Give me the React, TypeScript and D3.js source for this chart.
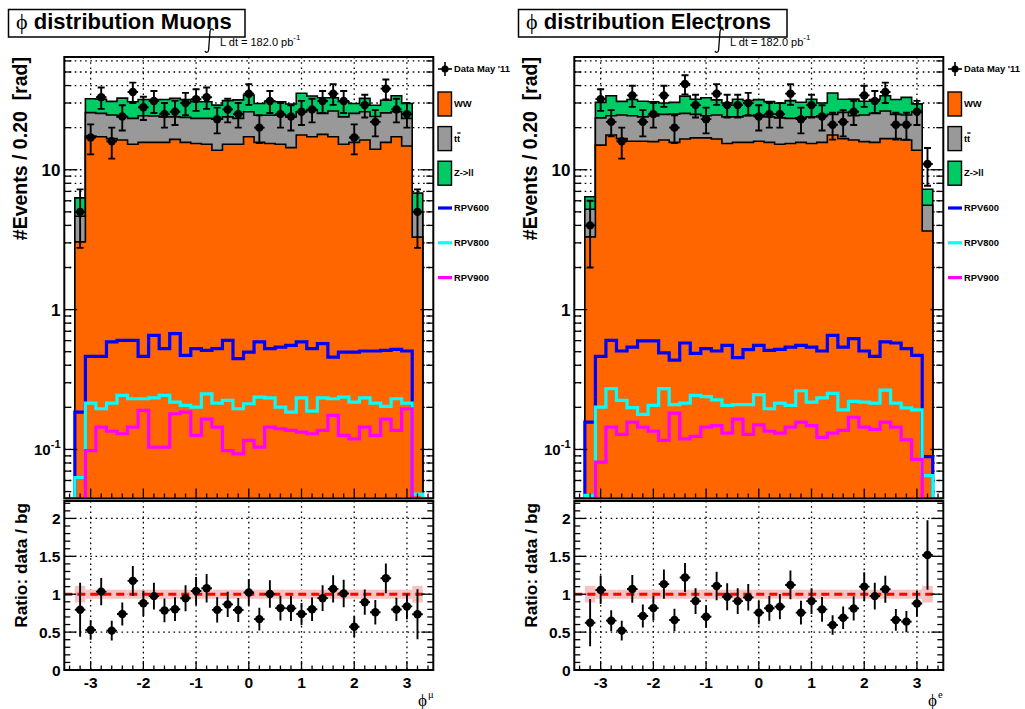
import React from 'react';
import * as d3 from 'd3';

// ---------------- binning ----------------
const BIN_LOW = -3.5;
const BIN_WIDTH = 0.2;
const N_BINS = 35;
const Y_MIN = 0.0446;
const Y_MAX = 64;
const R_MAX = 2.23;

// ---------------- Muons ----------------
const muData = [0, 5, 17, 33, 16, 24, 36, 28, 31, 25, 26, 30, 32, 33, 23, 27, 25, 35, 20, 31, 25, 24, 26, 27, 31, 35, 31, 17, 29, 22, 38, 27, 25, 5, 0];
const muWW = [0, 3.05, 17.4, 17.2, 16.7, 16.3, 15.2, 15.7, 15.7, 15.7, 16.5, 15.7, 15.4, 15.2, 13.8, 15.2, 15.2, 17.2, 15.7, 15.4, 15.2, 14.4, 17.7, 17.2, 17.9, 17.2, 15.2, 15.7, 16.3, 14.0, 15.7, 17.2, 14.8, 3.3, 0];
const muTT = [0, 1.6, 8.2, 8.1, 7.9, 7.6, 8.1, 8.6, 8.5, 8.2, 7.4, 8.0, 7.9, 8.1, 9.2, 8.7, 8.1, 8.8, 8.8, 9.1, 9.4, 9.5, 8.3, 9.5, 7.4, 9.1, 8.7, 9.6, 9.7, 10.0, 9.8, 8.8, 8.5, 1.7, 0];
const muZ = [0, 1.64, 6.6, 6.6, 6.2, 8.6, 7.3, 7.5, 7.6, 7.9, 8.5, 8.0, 7.4, 7.3, 6.0, 7.3, 8.3, 8.2, 5.3, 6.4, 6.0, 5.6, 9.2, 7.0, 7.4, 6.4, 6.8, 4.5, 6.4, 4.9, 5.9, 7.8, 6.5, 1.8, 0];
const muRPV600 = [0, 0.185, 0.463, 0.463, 0.587, 0.603, 0.603, 0.463, 0.655, 0.526, 0.673, 0.471, 0.526, 0.511, 0.526, 0.603, 0.446, 0.497, 0.587, 0.526, 0.54, 0.555, 0.587, 0.526, 0.571, 0.458, 0.497, 0.497, 0.506, 0.506, 0.511, 0.52, 0.506, 0, 0];
const muRPV800 = [0, 0.063, 0.2145, 0.1955, 0.2145, 0.2435, 0.2305, 0.2305, 0.234, 0.2435, 0.218, 0.2065, 0.201, 0.25, 0.2145, 0.224, 0.1955, 0.2122, 0.237, 0.234, 0.201, 0.185, 0.234, 0.188, 0.234, 0.2305, 0.237, 0.218, 0.234, 0.2145, 0.203, 0.2305, 0.2145, 0.048, 0];
const muRPV900 = [0, 0, 0.098, 0.1445, 0.135, 0.1295, 0.1445, 0.19, 0.104, 0.104, 0.18, 0.185, 0.126, 0.165, 0.1445, 0.098, 0.093, 0.116, 0.104, 0.1445, 0.1406, 0.137, 0.133, 0.1295, 0.137, 0.175, 0.126, 0.119, 0.1445, 0.126, 0.165, 0.137, 0.1955, 0, 0];
const muMCErr = [0, 0.11, 0.06, 0.06, 0.06, 0.06, 0.06, 0.06, 0.06, 0.06, 0.06, 0.06, 0.06, 0.06, 0.06, 0.06, 0.06, 0.06, 0.06, 0.06, 0.06, 0.06, 0.06, 0.06, 0.06, 0.06, 0.06, 0.06, 0.06, 0.06, 0.06, 0.06, 0.06, 0.11, 0];

// ---------------- Electrons ----------------
const elData = [0, 4, 32, 22, 16, 34, 22, 25, 34, 20, 41, 29, 23, 35, 29, 29, 30, 24, 25, 25, 35, 23, 29, 24, 21, 22, 26, 34, 31, 36, 21, 21, 26, 11, 0];
const elWW = [0, 3.31, 15.0, 17.7, 16.7, 16.0, 16.0, 15.9, 16.3, 15.7, 16.6, 16.9, 16.9, 16.6, 15.4, 15.7, 15.7, 16.0, 15.7, 15.2, 15.4, 15.7, 15.4, 15.7, 17.7, 16.7, 16.3, 15.9, 15.7, 16.7, 16.7, 16.3, 13.8, 3.65, 0];
const elTT = [0, 1.91, 8.5, 6.6, 7.9, 8.3, 7.9, 8.3, 8.6, 9.3, 8.7, 8.0, 7.4, 8.0, 8.5, 8.2, 8.6, 8.6, 8.2, 8.3, 7.9, 7.8, 8.5, 8.6, 7.2, 9.0, 8.0, 8.7, 9.6, 9.6, 8.2, 8.3, 12.2, 1.93, 0];
const elZ = [0, 1.19, 6.8, 9.5, 6.2, 7.5, 7.0, 6.4, 5.1, 5.3, 8.3, 7.0, 8.4, 7.0, 6.1, 8.0, 7.0, 7.1, 6.8, 6.4, 7.9, 6.9, 8.0, 5.7, 10.5, 6.2, 7.7, 6.3, 6.5, 7.5, 6.9, 8.3, 3.6, 1.67, 0];
const elRPV600 = [0, 0.157, 0.463, 0.603, 0.506, 0.54, 0.597, 0.597, 0.49, 0.435, 0.577, 0.487, 0.526, 0.506, 0.555, 0.454, 0.517, 0.555, 0.511, 0.52, 0.54, 0.555, 0.54, 0.506, 0.655, 0.54, 0.62, 0.506, 0.463, 0.587, 0.577, 0.526, 0.471, 0.089, 0];
const elRPV800 = [0, 0.047, 0.201, 0.272, 0.224, 0.199, 0.178, 0.2065, 0.272, 0.209, 0.2145, 0.2435, 0.239, 0.2265, 0.2065, 0.209, 0.209, 0.247, 0.1955, 0.2145, 0.2065, 0.263, 0.218, 0.234, 0.252, 0.192, 0.221, 0.218, 0.2145, 0.266, 0.2145, 0.198, 0.192, 0.065, 0];
const elRPV900 = [0, 0, 0.0812, 0.1445, 0.128, 0.157, 0.1445, 0.135, 0.116, 0.182, 0.119, 0.124, 0.1445, 0.148, 0.131, 0.165, 0.128, 0.15, 0.135, 0.131, 0.1445, 0.157, 0.148, 0.122, 0.131, 0.137, 0.17, 0.1445, 0.139, 0.157, 0.1445, 0.117, 0.085, 0, 0];
const elMCErr = [0, 0.11, 0.06, 0.06, 0.06, 0.06, 0.06, 0.06, 0.06, 0.06, 0.06, 0.06, 0.06, 0.06, 0.06, 0.06, 0.06, 0.06, 0.06, 0.06, 0.06, 0.06, 0.06, 0.06, 0.06, 0.06, 0.06, 0.06, 0.06, 0.06, 0.06, 0.06, 0.06, 0.11, 0];

// ---------------- axes / labels ----------------
const X_TICKS = [-3, -2, -1, 0, 1, 2, 3];
const RATIO_TICKS = [0, 0.5, 1, 1.5, 2];
const RATIO_GRID = [0.5, 1, 1.5, 2];
const MAIN_LABELS = [
  { v: 10, base: '10', exp: '' },
  { v: 1, base: '1', exp: '' },
  { v: 0.1, base: '10', exp: '-1' },
];
const LEGEND_FILLS = [
  { label: 'WW', key: 'ww' },
  { label: 'tt', key: 'tt' },
  { label: 'Z->ll', key: 'z' },
];
const LEGEND_LINES = [
  { label: 'RPV600', key: 'rpv600' },
  { label: 'RPV800', key: 'rpv800' },
  { label: 'RPV900', key: 'rpv900' },
];

const COLORS: Record<string, string> = {
  ww: '#ff6600',
  tt: '#999999',
  z: '#00cc66',
  rpv600: '#0000ff',
  rpv800: '#00ffff',
  rpv900: '#ff00ff',
  band: '#f8c2c2',
  unity: '#ff0000',
};

const FONT = "'Liberation Sans', Arial, Helvetica, sans-serif";
const SYM = "'Liberation Serif', 'DejaVu Serif', serif";

type PanelProps = {
  id: string;
  ox: number;
  title: string;
  titleW: number;
  sup: string;
  data: number[];
  ww: number[];
  tt: number[];
  z: number[];
  r600: number[];
  r800: number[];
  r900: number[];
  mcErr: number[];
};

function Panel(p: PanelProps) {
  const L = 64.3 + p.ox;
  const R = 433.3 + p.ox;
  const MT = 57;
  const MB = 498.5;
  const RT = 501;
  const RB = 670;
  const x = d3.scaleLinear().domain([BIN_LOW, BIN_LOW + N_BINS * BIN_WIDTH]).range([L, R]);
  const y = d3.scaleLog().domain([Y_MIN, Y_MAX]).range([MB, MT]);
  const yr = d3.scaleLinear().domain([0, R_MAX]).range([RB, RT]);

  const edge = (i: number) => x(BIN_LOW + i * BIN_WIDTH);
  const center = (i: number) => x(BIN_LOW + (i + 0.5) * BIN_WIDTH);
  const idx = d3.range(N_BINS);

  const rows = idx.map((i) => ({ ww: p.ww[i], tt: p.tt[i], z: p.z[i] }));
  const stacked = d3.stack<any>().keys(['ww', 'tt', 'z'])(rows);
  const total = stacked[2].map((d) => d[1]);

  const steps = (vals: number[]) =>
    vals.flatMap((v, i) => {
      const yy = y(Math.max(v, Y_MIN));
      return [[edge(i), yy], [edge(i + 1), yy]] as [number, number][];
    });
  const line = d3.line<[number, number]>();
  const area = d3
    .area<[number, number]>()
    .x((d) => d[0])
    .y0(MB)
    .y1((d) => d[1]);

  const layers = [
    { key: 'z', tops: stacked[2].map((d) => d[1]) },
    { key: 'tt', tops: stacked[1].map((d) => d[1]) },
    { key: 'ww', tops: stacked[0].map((d) => d[1]) },
  ];
  const rpv = [
    { key: 'rpv600', vals: p.r600 },
    { key: 'rpv800', vals: p.r800 },
    { key: 'rpv900', vals: p.r900 },
  ];

  const logTicks = y.ticks();
  const isMajor = (v: number) => Math.abs(Math.log10(v) - Math.round(Math.log10(v))) < 1e-6;
  const xMinor = d3.range(-17, 18).map((k) => k * 0.2).filter((v) => v > -3.5 && v < 3.5);
  const rMinor = d3.range(0, 23).map((k) => k * 0.1).filter((v) => v <= R_MAX);

  const clipM = `clipm-${p.id}`;
  const clipR = `clipr-${p.id}`;
  const grid = { stroke: '#000', strokeWidth: 1.3, strokeDasharray: '1.6,3.6' };

  const lx = 438 + p.ox;
  const ix = 205 + p.ox;

  return (
    <g>
      <defs>
        <clipPath id={clipM}>
          <rect x={L} y={MT} width={R - L} height={MB - MT} />
        </clipPath>
        <clipPath id={clipR}>
          <rect x={L} y={RT} width={R - L} height={RB - RT} />
        </clipPath>
      </defs>

      {/* title box */}
      <rect x={8.5 + p.ox} y={9.5} width={p.titleW} height={27.5} fill="#fff" stroke="#000" strokeWidth={1.5} />
      <text x={16 + p.ox} y={29} fontSize={22} fontWeight="bold">
        <tspan fontFamily={SYM} fontWeight="normal">ϕ</tspan>
        <tspan> {p.title}</tspan>
      </text>

      {/* luminosity: integral sign drawn as a path */}
      <path
        d={`M ${ix + 8.5} ${30.5} C ${ix + 8} ${28.3} ${ix + 5.3} ${28.3} ${ix + 5} ${31.5} L ${ix + 3.6} ${50} C ${ix + 3.3} ${53} ${ix + 0.6} ${53} ${ix} ${50.8}`}
        fill="none"
        stroke="#000"
        strokeWidth={1.3}
      />
      <text x={220 + p.ox} y={46} fontSize={11}>
        L dt = 182.0 pb<tspan dy={-6} fontSize={8}>-1</tspan>
      </text>

      {/* ---------- main pad ---------- */}
      <rect x={L} y={MT} width={R - L} height={MB - MT} fill="#fff" />
      <g clipPath={`url(#${clipM})`}>
        {logTicks.map((v) => (
          <line key={'hg' + v} x1={L} x2={R} y1={y(v)} y2={y(v)} {...grid} />
        ))}
        {X_TICKS.map((v) => (
          <line key={'vg' + v} x1={x(v)} x2={x(v)} y1={MT} y2={MB} {...grid} />
        ))}
        {layers.map((ly) => {
          const pts = steps(ly.tops);
          return (
            <g key={ly.key}>
              <path d={area(pts) || ''} fill={COLORS[ly.key]} />
              <path d={line(pts) || ''} fill="none" stroke="#000" strokeWidth={1.6} />
            </g>
          );
        })}
        {rpv.map((r) => (
          <path key={r.key} d={line(steps(r.vals)) || ''} fill="none" stroke={COLORS[r.key]} strokeWidth={3.2} />
        ))}
        {idx
          .filter((i) => p.data[i] > 0)
          .map((i) => {
            const d = p.data[i];
            const e = Math.sqrt(d);
            const cx = center(i);
            const yt = y(d + e);
            const yb = y(Math.max(d - e, Y_MIN));
            return (
              <g key={'d' + i} stroke="#000" strokeWidth={1.9}>
                <line x1={cx} x2={cx} y1={yt} y2={yb} />
                <line x1={cx - 3.5} x2={cx + 3.5} y1={yt} y2={yt} />
                <line x1={cx - 3.5} x2={cx + 3.5} y1={yb} y2={yb} />
                <line x1={edge(i)} x2={edge(i + 1)} y1={y(d)} y2={y(d)} />
                <circle cx={cx} cy={y(d)} r={4.2} fill="#000" stroke="none" />
              </g>
            );
          })}
      </g>
      {/* main ticks */}
      <g stroke="#000" strokeWidth={1.3}>
        {logTicks.map((v) => {
          const len = isMajor(v) ? 13 : 7;
          return (
            <g key={'yt' + v}>
              <line x1={L} x2={L + len} y1={y(v)} y2={y(v)} />
              <line x1={R} x2={R - len} y1={y(v)} y2={y(v)} />
            </g>
          );
        })}
        {xMinor.map((v) => {
          const major = Math.abs(v - Math.round(v)) < 1e-6;
          return <line key={'xt' + v} x1={x(v)} x2={x(v)} y1={MB} y2={MB - (major ? 10 : 5)} />;
        })}
      </g>
      <rect x={L} y={MT} width={R - L} height={MB - MT} fill="none" stroke="#000" strokeWidth={2} />
      {MAIN_LABELS.map((t) => (
        <text key={'ml' + t.v} x={60.5 + p.ox} y={y(t.v)} dy="0.36em" textAnchor="end" fontWeight="bold" fontSize={t.exp ? 15 : 17}>
          {t.base}
          {t.exp ? (
            <tspan dy={-7} fontSize={11}>
              {t.exp}
            </tspan>
          ) : null}
        </text>
      ))}
      <text
        transform={`translate(${26.5 + p.ox},${MT}) rotate(-90)`}
        textAnchor="end"
        fontWeight="bold"
        fontSize={19.5}
        style={{ whiteSpace: 'pre' }}
      >
        {'#Events / 0.20  [rad]'}
      </text>

      {/* legend */}
      <g>
        <line x1={lx} x2={lx + 14} y1={69} y2={69} stroke="#000" strokeWidth={1.6} />
        <line x1={lx + 7} x2={lx + 7} y1={62} y2={76} stroke="#000" strokeWidth={1.6} />
        <circle cx={lx + 7} cy={69} r={3.6} fill="#000" />
        <text x={lx + 16} y={69} dy="0.35em" fontSize={9.4} fontWeight="bold">Data May '11</text>
        {LEGEND_FILLS.map((f, k) => {
          const cy = 104 + k * 34.6;
          return (
            <g key={f.key}>
              <rect x={lx} y={cy - 12} width={13.5} height={24} fill={COLORS[f.key]} stroke="#000" strokeWidth={1.4} />
              <text x={lx + 16} y={cy} dy="0.35em" fontSize={9.4} fontWeight="bold">{f.label}</text>
              {f.key === 'tt' ? (
                <line x1={lx + 19.3} x2={lx + 22.6} y1={cy - 5.6} y2={cy - 5.6} stroke="#000" strokeWidth={1.3} />
              ) : null}
            </g>
          );
        })}
        {LEGEND_LINES.map((l, k) => {
          const cy = 208 + k * 34.8;
          return (
            <g key={l.key}>
              <line x1={lx} x2={lx + 14} y1={cy} y2={cy} stroke={COLORS[l.key]} strokeWidth={3.2} />
              <text x={lx + 16} y={cy} dy="0.35em" fontSize={9.4} fontWeight="bold">{l.label}</text>
            </g>
          );
        })}
      </g>

      {/* ---------- ratio pad ---------- */}
      <rect x={L} y={RT} width={R - L} height={RB - RT} fill="#fff" />
      <g clipPath={`url(#${clipR})`}>
        {RATIO_GRID.map((v) => (
          <line key={'rg' + v} x1={L} x2={R} y1={yr(v)} y2={yr(v)} {...grid} />
        ))}
        {X_TICKS.map((v) => (
          <line key={'rvg' + v} x1={x(v)} x2={x(v)} y1={RT} y2={RB} {...grid} />
        ))}
        {idx
          .filter((i) => total[i] > 0)
          .map((i) => (
            <rect
              key={'b' + i}
              x={edge(i)}
              width={edge(i + 1) - edge(i)}
              y={yr(1 + p.mcErr[i])}
              height={yr(1 - p.mcErr[i]) - yr(1 + p.mcErr[i])}
              fill={COLORS.band}
            />
          ))}
        <line
          x1={edge(0)}
          x2={edge(N_BINS - 1)}
          y1={yr(1)}
          y2={yr(1)}
          stroke={COLORS.unity}
          strokeWidth={3}
          strokeDasharray="8,5"
        />
        {idx
          .filter((i) => total[i] > 0 && p.data[i] > 0)
          .map((i) => {
            const r = p.data[i] / total[i];
            const e = Math.sqrt(p.data[i]) / total[i];
            const cx = center(i);
            return (
              <g key={'r' + i} stroke="#000" strokeWidth={1.9}>
                <line x1={cx} x2={cx} y1={yr(r + e)} y2={yr(Math.max(r - e, 0))} />
                <line x1={edge(i)} x2={edge(i + 1)} y1={yr(r)} y2={yr(r)} />
                <circle cx={cx} cy={yr(r)} r={4.2} fill="#000" stroke="none" />
              </g>
            );
          })}
      </g>
      <g stroke="#000" strokeWidth={1.3}>
        {rMinor.map((v) => {
          const major = Math.abs(v * 2 - Math.round(v * 2)) < 1e-6;
          return (
            <g key={'rt' + v}>
              <line x1={L} x2={L + (major ? 12 : 6)} y1={yr(v)} y2={yr(v)} />
              <line x1={R} x2={R - (major ? 12 : 6)} y1={yr(v)} y2={yr(v)} />
            </g>
          );
        })}
        {xMinor.map((v) => {
          const major = Math.abs(v - Math.round(v)) < 1e-6;
          return <line key={'rxt' + v} x1={x(v)} x2={x(v)} y1={RB} y2={RB - (major ? 9 : 4.5)} />;
        })}
      </g>
      <rect x={L} y={RT} width={R - L} height={RB - RT} fill="none" stroke="#000" strokeWidth={2} />
      {RATIO_TICKS.map((v) => (
        <text key={'rl' + v} x={60.5 + p.ox} y={yr(v)} dy="0.36em" textAnchor="end" fontWeight="bold" fontSize={15.5}>
          {String(v)}
        </text>
      ))}
      {X_TICKS.map((v) => (
        <text key={'xl' + v} x={x(v)} y={682} dy="0.36em" textAnchor="middle" fontWeight="bold" fontSize={15.5}>
          {String(v)}
        </text>
      ))}
      <text
        transform={`translate(${27 + p.ox},${RT + 2}) rotate(-90)`}
        textAnchor="end"
        fontWeight="bold"
        fontSize={17.3}
      >
        Ratio: data / bg
      </text>
      <text x={418 + p.ox} y={706} fontSize={17} fontFamily={SYM}>
        ϕ
      </text>
      <text x={428 + p.ox} y={698} fontSize={10.5} fontFamily={SYM}>
        {p.sup}
      </text>
    </g>
  );
}

export default function App() {
  return (
    <svg
      width={1025}
      height={709}
      viewBox="0 0 1025 709"
      style={{ position: 'absolute', left: 0, top: 0, display: 'block', background: '#fff' }}
      fontFamily={FONT}
    >
      <rect x={0} y={0} width={1025} height={709} fill="#fff" />
      <Panel
        id="mu"
        ox={0}
        title="distribution Muons"
        titleW={236.5}
        sup="μ"
        data={muData}
        ww={muWW}
        tt={muTT}
        z={muZ}
        r600={muRPV600}
        r800={muRPV800}
        r900={muRPV900}
        mcErr={muMCErr}
      />
      <Panel
        id="el"
        ox={510}
        title="distribution Electrons"
        titleW={268.5}
        sup="e"
        data={elData}
        ww={elWW}
        tt={elTT}
        z={elZ}
        r600={elRPV600}
        r800={elRPV800}
        r900={elRPV900}
        mcErr={elMCErr}
      />
    </svg>
  );
}
